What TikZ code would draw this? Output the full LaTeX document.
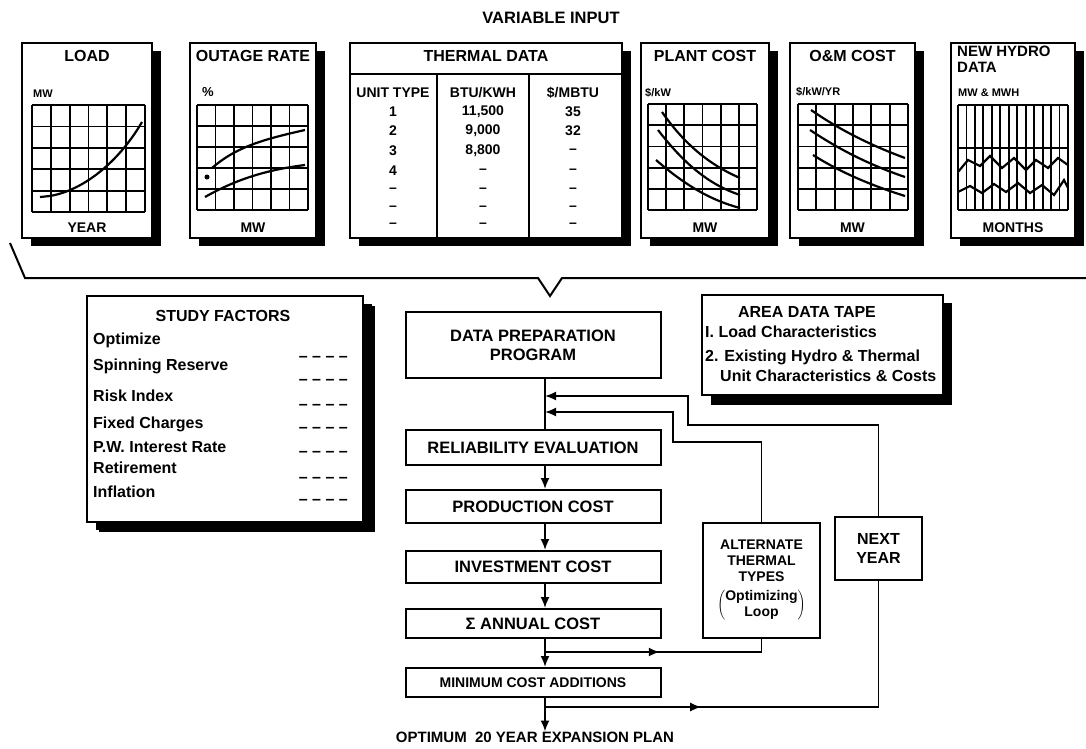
\documentclass[tikz,border=0pt]{standalone}
\usepackage{fontspec}
\setmainfont{Liberation Sans}
\usepackage{tikz}
\usetikzlibrary{arrows.meta,shadows,positioning,decorations.markings}

\newcommand\plotgrid[6]{%
  \foreach \k in {0,...,#5} \draw[gridline] ({#1+\k*(#3-#1)/#5},#2) -- ({#1+\k*(#3-#1)/#5},#4);
  \foreach \k in {0,...,#6} \draw[gridline] (#1,{#2+\k*(#4-#2)/#6}) -- (#3,{#2+\k*(#4-#2)/#6});}

\begin{document}
\begin{tikzpicture}[x=1pt,y=-1pt,
  panel/.style={draw,line width=2pt,fill=white,inner sep=0pt,
    drop shadow={shadow xshift=9pt,shadow yshift=-8pt,opacity=1,fill=black}},
  procbox/.style={draw,line width=2pt,fill=white,inner sep=0pt,align=center,
    minimum width=255pt,font=\bfseries\fontsize{16.5}{19}\selectfont},
  ttl/.style={inner sep=0pt,font=\bfseries\fontsize{16}{18}\selectfont},
  ax/.style={inner sep=0pt,font=\bfseries\fontsize{11}{12}\selectfont},
  tab/.style={inner sep=0pt,font=\bfseries\fontsize{14}{16}\selectfont},
  item/.style={inner sep=0pt,text height=11pt,text depth=3pt,font=\bfseries\fontsize{16}{18}\selectfont},
  gridline/.style={line width=1.8pt},
  curve/.style={line width=2.2pt},
  conn/.style={line width=1.8pt},
  flow/.style={conn,-{Latex[length=11pt,width=9pt]}},
  midarrow/.style={postaction={decorate},decoration={markings,
    mark=at position #1 with {\arrow{Latex[length=11pt,width=9pt]}}}}]
    \useasboundingbox (0,0) rectangle (1086,748);

    \node[ttl,font=\bfseries\fontsize{16.5}{18}\selectfont] (varin) at (551,18) {VARIABLE INPUT};

    \node[panel,minimum width=130pt,minimum height=195pt] (load) at (87,140.5) {};
    \node[panel,minimum width=126pt,minimum height=195pt] (outage) at (253,140.5) {};
    \node[panel,minimum width=272pt,minimum height=195pt] (thermal) at (486,140.5) {};
    \node[panel,minimum width=128pt,minimum height=195pt] (plant) at (705,140.5) {};
    \node[panel,minimum width=125pt,minimum height=195pt] (om) at (852.5,140.5) {};
    \node[panel,minimum width=124pt,minimum height=195pt] (hydro) at (1013,140.5) {};

    \node[ttl,below=8pt of load.north] (loadT) {LOAD};
    \node[ax,anchor=west] (loadY) at (33,94) {MW};
    \plotgrid{32}{105}{145}{212}{6}{5}
    \draw[curve] (40,197) -- (50,196) .. controls (85,190) and (120,160) .. (142,122);
    \node[ttl,font=\bfseries\fontsize{14}{15}\selectfont,above=6pt of load.south] (loadX) {YEAR};

    \node[ttl,below=8pt of outage.north] (outageT) {OUTAGE RATE};
    \node[ttl,font=\bfseries\fontsize{13}{15}\selectfont] (outageY) at (208,92) {\%};
    \plotgrid{197}{105}{308}{210}{6}{5}
    \draw[curve] (212,168) .. controls (235,148) and (260,140) .. (305,130);
    \draw[curve] (205,197) .. controls (235,180) and (265,170) .. (305,165);
    \fill (207,177) circle (2.5pt);
    \node[ttl,font=\bfseries\fontsize{14}{15}\selectfont,above=6pt of outage.south] (outageX) {MW};

    \node[ttl,below=8pt of thermal.north] (thermalT) {THERMAL DATA};
    \draw[conn] (350,74) -- (622,74);
    \draw[conn] (437,74) -- (437,238);
    \draw[conn] (529,74) -- (529,238);
    \node[tab] (hdA) at (393,93) {UNIT TYPE};
    \node[tab] (hdB) at (483,93) {BTU/KWH};
    \node[tab] (hdC) at (573,93) {\$/MBTU};
    \foreach \a/\b/\c/\yy [count=\r] in {1/{11,500}/35/112, 2/{9,000}/32/131, 3/{8,800}/--/151,
        4/--/--/171, --/--/--/190, --/--/--/208, --/--/--/225} {
      \node[tab] (ut\r) at (393,\yy) {\a};
      \node[tab] (btu\r) at (483,\yy) {\b};
      \node[tab] (fuel\r) at (573,\yy) {\c};
    }

    \node[ttl,below=8pt of plant.north] (plantT) {PLANT COST};
    \node[ax,anchor=west] (plantY) at (645,93) {\$/kW};
    \plotgrid{648}{104}{757}{210}{6}{5}
    \draw[curve] (662,112) .. controls (685,145) and (710,165) .. (740,178);
    \draw[curve] (658,130) .. controls (685,165) and (710,185) .. (740,195);
    \draw[curve] (656,160) .. controls (685,185) and (710,200) .. (740,208);
    \node[ttl,font=\bfseries\fontsize{14}{15}\selectfont,above=6pt of plant.south] (plantX) {MW};

    \node[ttl,below=8pt of om.north] (omT) {O\&M COST};
    \node[ax,anchor=west] (omY) at (796,92) {\$/kW/YR};
    \plotgrid{798}{104}{908}{210}{6}{5}
    \draw[curve] (811,110) .. controls (840,130) and (870,145) .. (905,158);
    \draw[curve] (810,130) .. controls (840,150) and (870,165) .. (905,177);
    \draw[curve] (813,155) .. controls (840,172) and (870,185) .. (905,196);
    \node[ttl,font=\bfseries\fontsize{14}{15}\selectfont,above=6pt of om.south] (omX) {MW};

    \node[ttl,anchor=north west,align=left,font=\bfseries\fontsize{15}{16}\selectfont] (hydroT) at (957,46) {NEW HYDRO\\DATA};
    \node[ax,anchor=west] (hydroY) at (958,93) {MW \& MWH};
    \plotgrid{958}{105}{1068}{210}{13}{1}
    \draw[gridline] (958,148) -- (1068,148);
    \draw[curve] (958,172) -- (968,160) -- (980,166) -- (990,156) -- (1002,168) -- (1014,158)
      -- (1026,170) -- (1036,160) -- (1048,168) -- (1058,158) -- (1068,165);
    \draw[curve] (958,192) -- (970,186) -- (982,193) -- (994,184) -- (1006,192) -- (1018,183)
      -- (1030,193) -- (1042,185) -- (1054,195) -- (1064,180) -- (1068,188);
    \node[ttl,font=\bfseries\fontsize{14}{15}\selectfont,above=6pt of hydro.south] (hydroX) {MONTHS};

    \draw[conn,line width=2pt] (10,243) -- (25,278) -- (538,278) -- (550,296) -- (562,278) -- (1086,278);

    \node[panel,minimum width=276pt,minimum height=226pt,
      drop shadow={shadow xshift=12pt,shadow yshift=-10pt,opacity=1,fill=black}] (study) at (225,409) {};
    \node[ttl] (studyT) at (223,316) {STUDY FACTORS};
    \foreach \t/\yy/\dy [count=\r] in {Optimize/340/357, Spinning Reserve/366/380, Risk Index/397/405,
        Fixed Charges/424/428, P.W. Interest Rate/448/452, Retirement/469/478, Inflation/493/500} {
      \node[item,anchor=west] (sf\r) at (93,\yy) {\t};
      \node[item,anchor=east] (sfv\r) at (348,\dy) {-- -- -- --};
    }

    \node[panel,minimum width=241pt,minimum height=100pt,
      drop shadow={shadow xshift=9pt,shadow yshift=-10pt,opacity=1,fill=black}] (tape) at (822.5,345) {};
    \node[ttl] (tapeT) at (807,312) {AREA DATA TAPE};
    \node[item,anchor=west] (tape1) at (705,333) {I. Load Characteristics};
    \node[item,anchor=west] (tape2) at (705,357) {2. Existing Hydro \& Thermal};
    \node[item,anchor=west] (tape3) at (720,377) {Unit Characteristics \& Costs};

    \node[procbox,minimum height=66pt] (prep) at (533,345) {DATA PREPARATION\\PROGRAM};
    \node[procbox,minimum height=35pt] (rel) at (533,447.5) {RELIABILITY EVALUATION};
    \node[procbox,minimum height=33pt] (prod) at (533,506.5) {PRODUCTION COST};
    \node[procbox,minimum height=32pt] (inv) at (533,567) {INVESTMENT COST};
    \node[procbox,minimum height=29pt] (ann) at (533,623.5) {Σ ANNUAL COST};
    \node[procbox,minimum height=29pt,font=\bfseries\fontsize{14}{16}\selectfont] (mincost) at (533,682.5) {MINIMUM COST ADDITIONS};
    \node[ttl,font=\bfseries\fontsize{15}{17}\selectfont] (out) at (535,737) {OPTIMUM\ \ 20 YEAR EXPANSION PLAN};

    \node[procbox,minimum width=117pt,minimum height=115pt,font=\bfseries\fontsize{14}{16}\selectfont] (alt) at (761.5,580.5)
      {ALTERNATE\\THERMAL\\TYPES\\[7pt]$\left(\begin{tabular}{@{}c@{}}Optimizing\\Loop\end{tabular}\right)$};
    \node[procbox,minimum width=87pt,minimum height=63pt,font=\bfseries\fontsize{16}{19}\selectfont] (next) at (878.5,548.5) {NEXT\\YEAR};

    \coordinate (spine) at (545,0);
    \coordinate (j1) at (545,396);
    \coordinate (j2) at (545,412);
    \coordinate (j3) at (545,652);
    \coordinate (j4) at (545,707);
    \coordinate (n1) at (688,425);
    \coordinate (a1) at (673,442);

    \draw[conn] (prep.south -| spine) -- (rel.north -| spine);
    \draw[flow] (rel.south -| spine) -- (prod.north -| spine);
    \draw[flow] (prod.south -| spine) -- (inv.north -| spine);
    \draw[flow] (inv.south -| spine) -- (ann.north -| spine);
    \draw[flow] (ann.south -| spine) -- (mincost.north -| spine);
    \draw[flow] (mincost.south -| spine) -- (out.north -| spine);
    \draw[flow] (next.north) |- (n1) |- (j1);
    \draw[flow] (alt.north) |- (a1) |- (j2);
    \draw[conn,midarrow=0.5] (j3) -| (alt.south);
    \draw[conn,midarrow=0.34] (j4) -| (next.south);
   \end{tikzpicture}
\end{document}
